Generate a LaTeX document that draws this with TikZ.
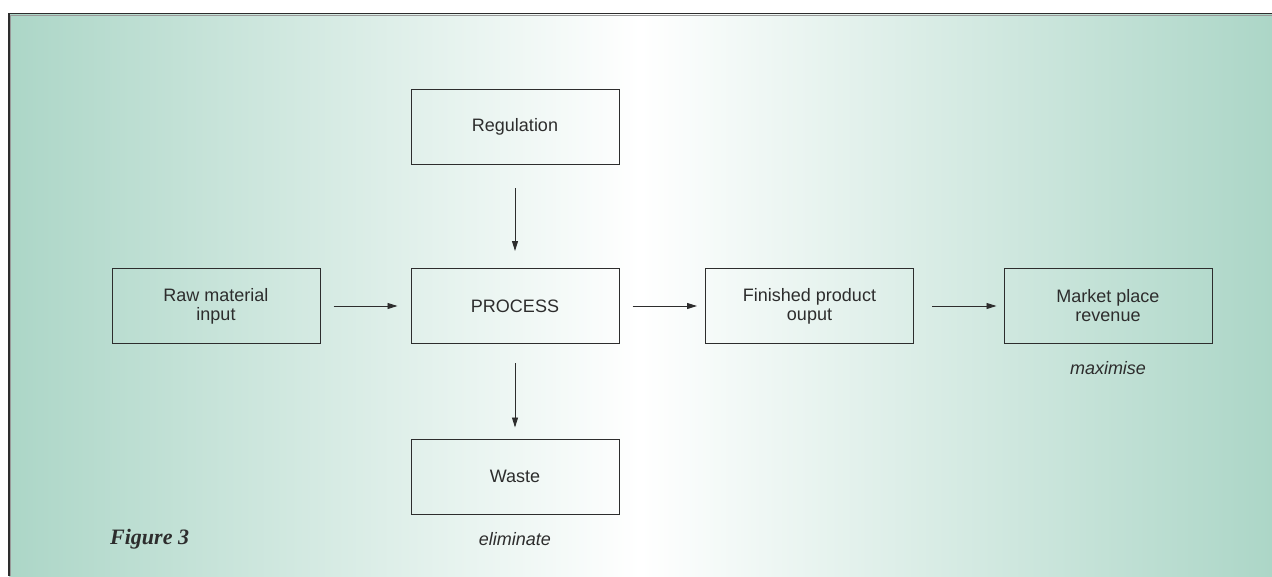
\documentclass[tikz,border=0pt]{standalone}
\usepackage{fontspec}
\setmainfont{Liberation Sans}
\newfontfamily\figfont{Liberation Serif}
\usetikzlibrary{arrows.meta}
\definecolor{bgteal}{RGB}{172,214,199}
\definecolor{linegray}{RGB}{45,45,45}
\begin{document}
\begin{tikzpicture}[x=1pt,y=-1pt,
  box/.style={draw=linegray,line width=1pt,minimum width=208pt,minimum height=75pt,inner sep=0pt,align=center,text=linegray,font=\fontsize{18}{19}\selectfont},
  lbl/.style={text=linegray,font=\fontsize{18}{19}\selectfont\itshape,inner sep=0pt},
  flow/.style={draw=linegray,line width=0.9pt,-{Triangle[length=10pt,width=6pt]}}]
\useasboundingbox (0,0) rectangle (1272,576);
\shade[left color=bgteal,right color=bgteal,middle color=white] (9,14) rectangle (1272,576);
\draw[gray!80,line width=1pt] (10,15) -- (1272,15);
\draw[gray!80,line width=1pt] (10,15) -- (10,576);
\draw[linegray,line width=1.5pt] (9,576) -- (9,13.5) -- (1272,13.5);
\node[box] (raw) at (216,306) {Raw material\\input};
\node[box] (process) at (515,306) {PROCESS};
\node[box] (reg) at (515,127) {Regulation};
\node[box] (waste) at (515,476.5) {Waste};
\node[box] (fin) at (809.5,306) {Finished product\\ouput};
\node[box] (market) at (1108,306) {Market place\\revenue};
\node[lbl,anchor=base] (max) at (1108,374) {maximise};
\node[lbl,anchor=base] (elim) at (515,545) {eliminate};
\node[anchor=base west,inner sep=0pt,text=linegray,font=\figfont\fontsize{22}{24}\selectfont\bfseries\itshape] (fig) at (110,544) {Figure 3};
\draw[flow,shorten <=13pt,shorten >=13pt] (raw) -- (process);
\draw[flow,shorten <=13pt,shorten >=8pt] (process) -- (fin);
\draw[flow,shorten <=18pt,shorten >=7pt] (fin) -- (market);
\draw[flow,shorten <=23pt,shorten >=17pt] (reg) -- (process);
\draw[flow,shorten <=19pt,shorten >=11pt] (process) -- (waste);
\end{tikzpicture}
\end{document}
